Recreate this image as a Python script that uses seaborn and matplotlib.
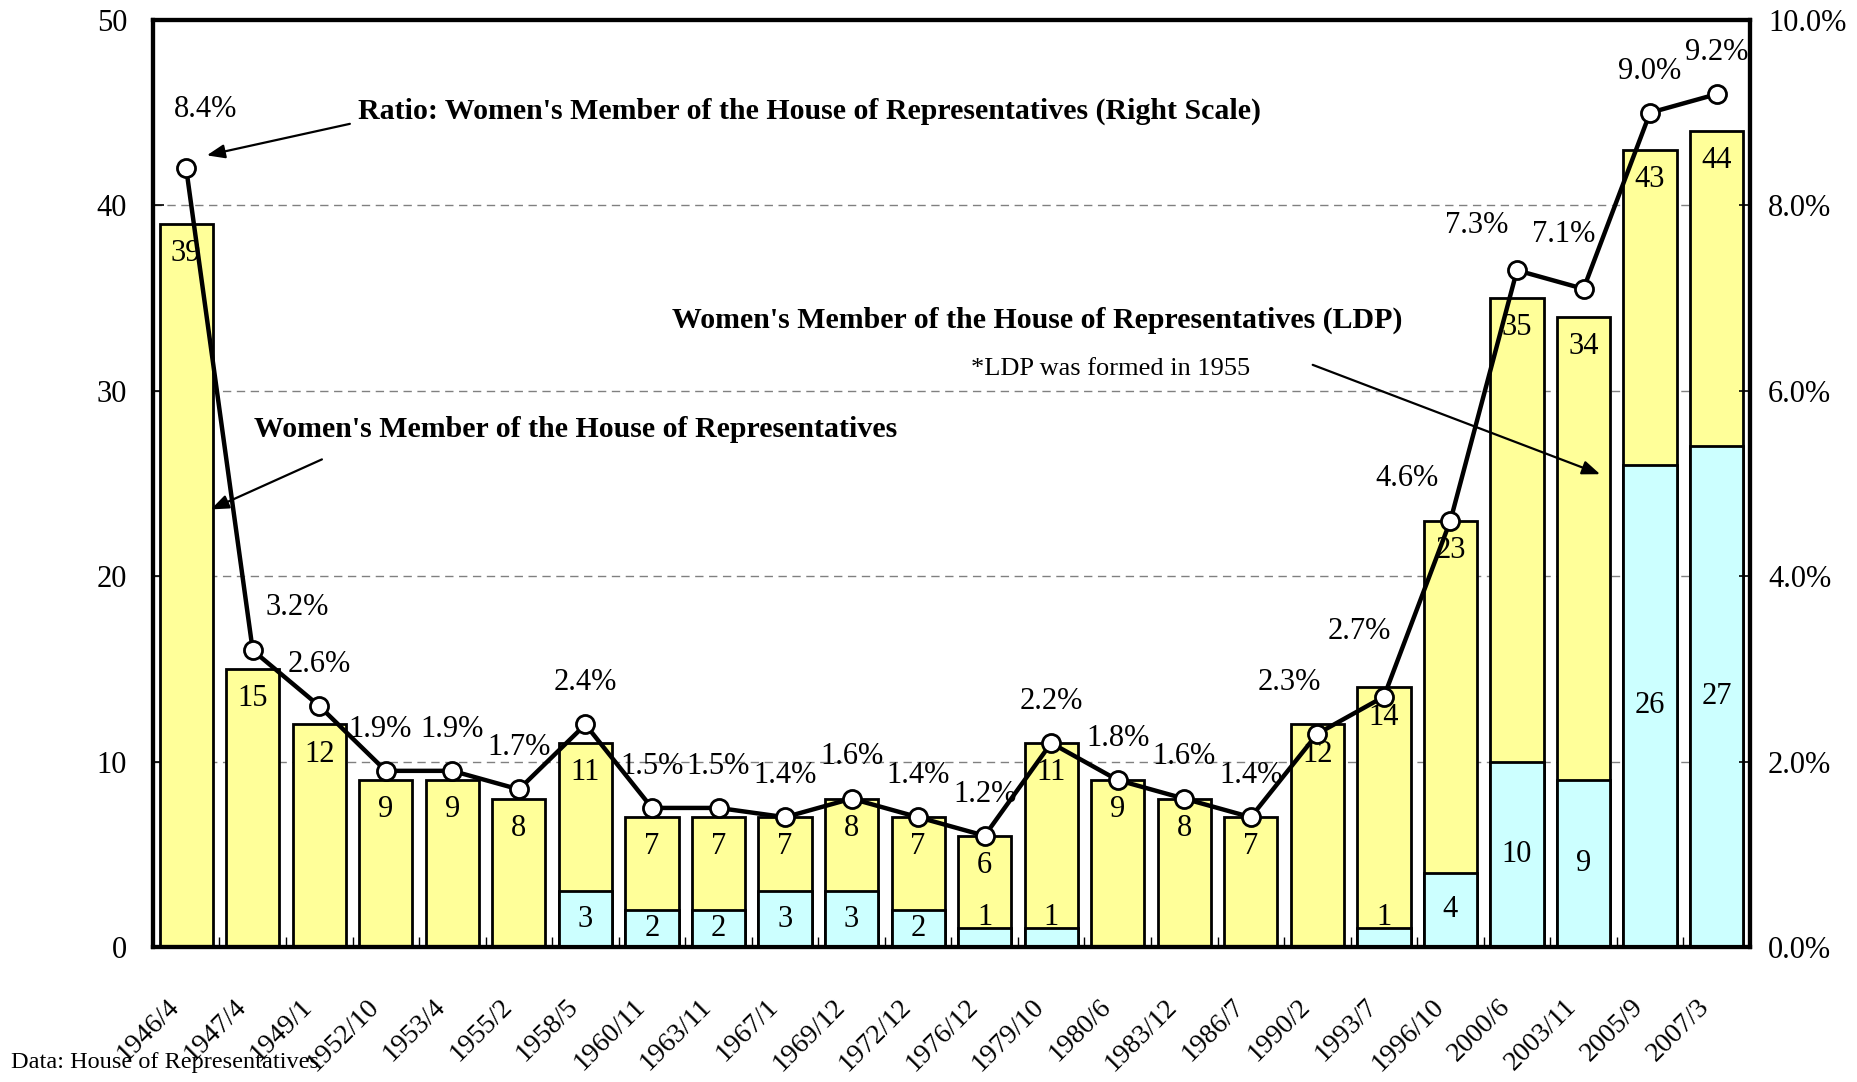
import numpy as np
import pandas as pd
import matplotlib
matplotlib.use("Agg")
import matplotlib.pyplot as plt
from matplotlib.transforms import ScaledTranslation
import seaborn as sns

# Chart data
dates = ["1946/4", "1947/4", "1949/1", "1952/10", "1953/4", "1955/2", "1958/5", "1960/11",
         "1963/11", "1967/1", "1969/12", "1972/12", "1976/12", "1979/10", "1980/6", "1983/12",
         "1986/7", "1990/2", "1993/7", "1996/10", "2000/6", "2003/11", "2005/9", "2007/3"]
women_total = [39, 15, 12, 9, 9, 8, 11, 7, 7, 7, 8, 7, 6, 11, 9, 8, 7, 12, 14, 23, 35, 34, 43, 44]
women_ldp = [0, 0, 0, 0, 0, 0, 3, 2, 2, 3, 3, 2, 1, 1, 0, 0, 0, 0, 1, 4, 10, 9, 26, 27]
ratio_pct = [8.4, 3.2, 2.6, 1.9, 1.9, 1.7, 2.4, 1.5, 1.5, 1.4, 1.6, 1.4, 1.2, 2.2, 1.8, 1.6,
             1.4, 2.3, 2.7, 4.6, 7.3, 7.1, 9.0, 9.2]

YELLOW = "#FFFF99"
CYAN = "#CCFFFF"
FONT = ["Liberation Serif", "DejaVu Serif"]

df = pd.DataFrame({"date": dates, "total": women_total, "ldp": women_ldp, "ratio": ratio_pct})
df["pos"] = np.arange(len(df))

sns.set_theme(style="white")
plt.rcParams["font.family"] = FONT
plt.rcParams["axes.edgecolor"] = "black"
plt.rcParams["text.color"] = "black"
plt.rcParams["xtick.color"] = "black"
plt.rcParams["ytick.color"] = "black"

fig = plt.figure(figsize=(18.58, 10.82), dpi=100)
ax = fig.add_axes([0.0823, 0.1248, 0.8595, 0.8567])

sns.barplot(data=df, x="date", y="total", color=YELLOW, saturation=1, edgecolor="black",
            linewidth=2, width=0.8, ax=ax, zorder=2)
sns.barplot(data=df, x="date", y="ldp", color=CYAN, saturation=1, edgecolor="black",
            linewidth=2, width=0.8, ax=ax, zorder=3)

ax.set_xlim(-0.5, len(df) - 0.5)
ax.set_ylim(0, 50)
ax.set_yticks(range(0, 51, 10))
ax.set_xlabel("")
ax.set_ylabel("")
ax.yaxis.grid(True, linestyle=(0, (6, 4)), color="gray", linewidth=1)
ax.set_axisbelow(True)
for s in ax.spines.values():
    s.set_linewidth(3)
    s.set_color("black")

ax.tick_params(axis="y", left=True, direction="in", length=8, width=1.2, labelsize=22, pad=18.5)
ax.set_xticks(np.arange(-0.5, len(df), 1), minor=True)
ax.tick_params(axis="x", which="minor", bottom=True, direction="in", length=7, width=1)
ax.tick_params(axis="x", which="major", length=0, labelsize=20, pad=34)
ax.set_xticks(df["pos"])
ax.set_xticklabels(dates)
for lab in ax.get_xticklabels():
    lab.set_rotation(45)
    lab.set_ha("right")
    lab.set_va("top")
    lab.set_rotation_mode("anchor")
    lab.set_transform(lab.get_transform() + ScaledTranslation(-14 / 72, 0, fig.dpi_scale_trans))

# value labels on bars
for i, row in df.iterrows():
    ax.text(row["pos"], row["total"] - 1.6, str(row["total"]), ha="center", va="center",
            fontsize=22, zorder=6)
    if row["ldp"] > 0:
        y = row["ldp"] / 2 if row["ldp"] >= 2 else row["ldp"] + 0.6
        ax.text(row["pos"], y, str(row["ldp"]), ha="center", va="center", fontsize=22, zorder=6)

# ratio line (right scale)
ax2 = ax.twinx()
sns.lineplot(data=df, x="pos", y="ratio", ax=ax2, color="black", linewidth=3.2, sort=False,
             marker="o", markersize=13, markerfacecolor="white", markeredgecolor="black",
             markeredgewidth=2, zorder=5)
ax2.set_ylim(0, 10)
ax2.set_yticks(np.arange(0, 10.1, 2))
ax2.set_yticklabels([f"{v:.1f}%" for v in np.arange(0, 10.1, 2)])
ax2.set_ylabel("")
ax2.tick_params(axis="y", right=True, direction="in", length=8, width=1.2, labelsize=22, pad=13)
ax2.grid(False)
for s in ax2.spines.values():
    s.set_linewidth(3)
    s.set_color("black")

# percent labels, mostly straight above the markers
label_offsets = {0: (14, 42), 1: (32, 31), 3: (-4, 30), 17: (-20, 37), 18: (-18, 47),
                 19: (-31, 30), 20: (-29, 32), 21: (-14, 39)}
for i, r in enumerate(ratio_pct):
    dx, dy = label_offsets.get(i, (0, 30))
    ax2.annotate(f"{r:.1f}%", xy=(i, r), xytext=(dx, dy), textcoords="offset points",
                 ha="center", va="center", fontsize=22)

# callouts
arrow = dict(arrowstyle="-|>,head_length=0.9,head_width=0.35", color="black", lw=1.6,
             shrinkA=0, shrinkB=0)
ax.text(2.58, 45.1, "Ratio: Women's Member of the House of Representatives (Right Scale)",
        fontsize=21.5, fontweight="bold", ha="left", va="center", zorder=7)
ax.annotate("", xy=(0.31, 42.7), xytext=(2.46, 44.4), arrowprops=arrow, zorder=7)

ax.text(1.02, 27.9, "Women's Member of the House of Representatives",
        fontsize=21.5, fontweight="bold", ha="left", va="center", zorder=7)
ax.annotate("", xy=(0.37, 23.6), xytext=(2.04, 26.3), arrowprops=arrow, zorder=7)

ax.text(7.3, 33.8, "Women's Member of the House of Representatives (LDP)",
        fontsize=21.5, fontweight="bold", ha="left", va="center", zorder=7)
ax.text(11.8, 31.2, "*LDP was formed in 1955", fontsize=19, ha="left", va="center", zorder=7)
ax.annotate("", xy=(21.25, 25.5), xytext=(16.93, 31.4), arrowprops=arrow, zorder=7)

fig.text(0.006, 0.008, "Data: House of Representatives", fontsize=17.5, ha="left", va="bottom")

fig.savefig("out.png", dpi=100)
